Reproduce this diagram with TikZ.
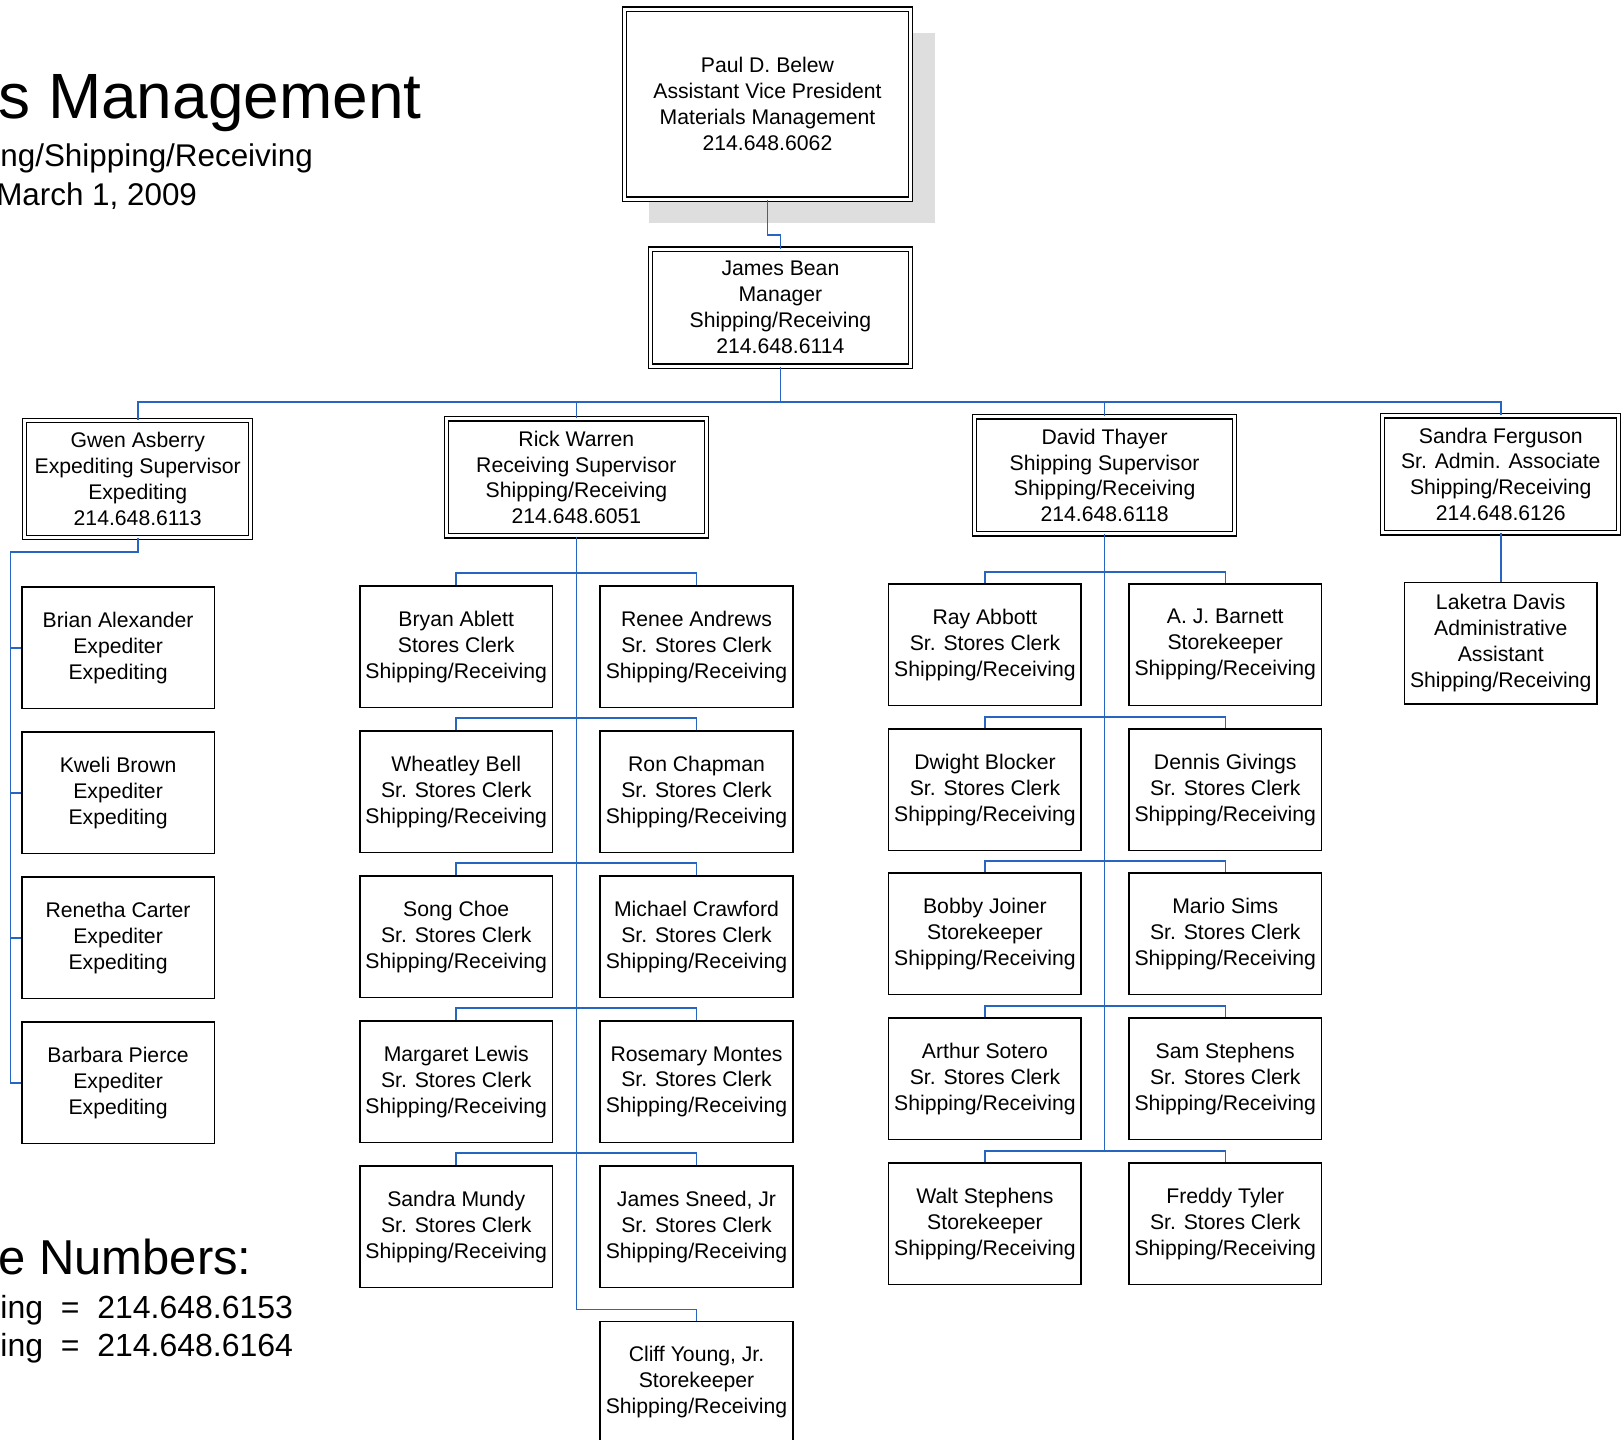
\documentclass[tikz,border=0pt]{standalone}
\usepackage{fontspec}
\setmainfont{Liberation Sans}
\usetikzlibrary{calc,positioning,shadows}
\definecolor{linkblue}{RGB}{38,102,192}

\begin{document}
\begin{tikzpicture}[x=0.5179pt, y=-0.5179pt, every node/.style={font=\fontsize{10.6}{12.95}\selectfont, align=center, inner sep=0pt}, leaf/.style={draw, line width=0.8pt, fill=white, minimum width=96.3pt, minimum height=60.6pt}, head/.style={draw, double, double distance=1.5pt, line width=0.6pt, fill=white, minimum height=58.5pt}, link/.style={draw=linkblue, line width=0.75pt}]

    \useasboundingbox (0,0) rectangle (1568,1390);

    \node[anchor=base west, font=\fontsize{32}{36}\selectfont]   (title)  at (-2,114)  {s Management};
    \node[anchor=base west, font=\fontsize{15.7}{19}\selectfont] (dept)   at (0,161)   {ng/Shipping/Receiving};
    \node[anchor=base west, font=\fontsize{15.7}{19}\selectfont] (date)   at (-4,198)  {March 1, 2009};
    \node[anchor=base west, font=\fontsize{24.5}{29}\selectfont] (phones) at (-2,1231) {e Numbers:};
    \node[anchor=base west, font=\fontsize{16}{19}\selectfont]   (phonea) at (0,1273)  {ing\ \ =\ \ 214.648.6153};
    \node[anchor=base west, font=\fontsize{16}{19}\selectfont]   (phoneb) at (0,1310)  {ing\ \ =\ \ 214.648.6164};

    \node[head, general shadow={fill=black!13, shadow xshift=12.4pt, shadow yshift=-11.9pt}, minimum width=143pt, minimum height=95pt] (belew) at (741,100.5) {Paul D. Belew\\Assistant Vice President\\Materials Management\\214.648.6062};
    \node[head, minimum width=130pt] (bean)     at (753.5,297)  {James Bean\\Manager\\Shipping/Receiving\\214.648.6114};

    \node[head, minimum width=113pt] (asberry)  at (133,462.5)  {Gwen Asberry\\Expediting Supervisor\\Expediting\\214.648.6113};
    \node[head, minimum width=130pt] (warren)   at (556.5,461)  {Rick Warren\\Receiving Supervisor\\Shipping/Receiving\\214.648.6051};
    \node[head, minimum width=130pt] (thayer)   at (1066.5,459) {David Thayer\\Shipping Supervisor\\Shipping/Receiving\\214.648.6118};
    \node[head, minimum width=118pt] (ferguson) at (1449,458)   {Sandra Ferguson\\Sr. Admin. Associate\\Shipping/Receiving\\214.648.6126};

    \node[leaf] (alexander) at (114,625.5)  {Brian Alexander\\Expediter\\Expediting};
    \node[leaf] (brown)     at (114,765.5)  {Kweli Brown\\Expediter\\Expediting};
    \node[leaf] (carter)    at (114,905.5)  {Renetha Carter\\Expediter\\Expediting};
    \node[leaf] (pierce)    at (114,1045.5) {Barbara Pierce\\Expediter\\Expediting};

    \node[leaf] (ablett)    at (440.5,624.5)  {Bryan Ablett\\Stores Clerk\\Shipping/Receiving};
    \node[leaf] (andrews)   at (672.5,624.5)  {Renee Andrews\\Sr. Stores Clerk\\Shipping/Receiving};
    \node[leaf] (bell)      at (440.5,764.5)  {Wheatley Bell\\Sr. Stores Clerk\\Shipping/Receiving};
    \node[leaf] (chapman)   at (672.5,764.5)  {Ron Chapman\\Sr. Stores Clerk\\Shipping/Receiving};
    \node[leaf] (choe)      at (440.5,904.5)  {Song Choe\\Sr. Stores Clerk\\Shipping/Receiving};
    \node[leaf] (crawford)  at (672.5,904.5)  {Michael Crawford\\Sr. Stores Clerk\\Shipping/Receiving};
    \node[leaf] (lewis)     at (440.5,1044.5) {Margaret Lewis\\Sr. Stores Clerk\\Shipping/Receiving};
    \node[leaf] (montes)    at (672.5,1044.5) {Rosemary Montes\\Sr. Stores Clerk\\Shipping/Receiving};
    \node[leaf] (mundy)     at (440.5,1184.5) {Sandra Mundy\\Sr. Stores Clerk\\Shipping/Receiving};
    \node[leaf] (sneed)     at (672.5,1184.5) {James Sneed, Jr\\Sr. Stores Clerk\\Shipping/Receiving};
    \node[leaf] (young)     at (672.5,1334.5) {Cliff Young, Jr.\\Storekeeper\\Shipping/Receiving};

    \node[leaf] (abbott)    at (951,622.5)   {Ray Abbott\\Sr. Stores Clerk\\Shipping/Receiving};
    \node[leaf] (barnett)   at (1183,622.5)  {A. J. Barnett\\Storekeeper\\Shipping/Receiving};
    \node[leaf] (blocker)   at (951,762.5)   {Dwight Blocker\\Sr. Stores Clerk\\Shipping/Receiving};
    \node[leaf] (givings)   at (1183,762.5)  {Dennis Givings\\Sr. Stores Clerk\\Shipping/Receiving};
    \node[leaf] (joiner)    at (951,901.5)   {Bobby Joiner\\Storekeeper\\Shipping/Receiving};
    \node[leaf] (sims)      at (1183,901.5)  {Mario Sims\\Sr. Stores Clerk\\Shipping/Receiving};
    \node[leaf] (sotero)    at (951,1041.5)  {Arthur Sotero\\Sr. Stores Clerk\\Shipping/Receiving};
    \node[leaf] (sstephens) at (1183,1041.5) {Sam Stephens\\Sr. Stores Clerk\\Shipping/Receiving};
    \node[leaf] (wstephens) at (951,1181.5)  {Walt Stephens\\Storekeeper\\Shipping/Receiving};
    \node[leaf] (tyler)     at (1183,1181.5) {Freddy Tyler\\Sr. Stores Clerk\\Shipping/Receiving};

    \node[leaf] (davis)     at (1449,621)    {Laketra Davis\\Administrative\\Assistant\\Shipping/Receiving};

    \coordinate (bus) at (753.5,388);
    \coordinate (gw)  at (10,533);

    \draw[link] (belew.south) -- ++(0,34) -| (bean.north);
    \draw[link] (bean.south) -- (bus);
    \draw[link] (asberry.north) |- (bus) -| (ferguson.north);
    \draw[link] (warren.north) -- (warren.north |- bus);
    \draw[link] (thayer.north) -- (thayer.north |- bus);

    \draw[link] (asberry.south) |- (gw) |- (pierce.west);
    \draw[link] (gw) |- (alexander.west);
    \draw[link] (gw) |- (brown.west);
    \draw[link] (gw) |- (carter.west);

    \draw[link] (warren.south) |- ($(young.north)+(0,-11)$) -- (young.north);
    \draw[link] (ablett.north) -- ++(0,-12) -| (andrews.north);
    \draw[link] (bell.north)   -- ++(0,-12) -| (chapman.north);
    \draw[link] (choe.north)   -- ++(0,-12) -| (crawford.north);
    \draw[link] (lewis.north)  -- ++(0,-12) -| (montes.north);
    \draw[link] (mundy.north)  -- ++(0,-12) -| (sneed.north);

    \draw[link] (thayer.south) -- ($(thayer.south |- tyler.north)+(0,-11)$);
    \draw[link] (abbott.north)    -- ++(0,-11) -| (barnett.north);
    \draw[link] (blocker.north)   -- ++(0,-11) -| (givings.north);
    \draw[link] (joiner.north)    -- ++(0,-11) -| (sims.north);
    \draw[link] (sotero.north)    -- ++(0,-11) -| (sstephens.north);
    \draw[link] (wstephens.north) -- ++(0,-11) -| (tyler.north);

    \draw[link] (ferguson.south) -- (davis.north);

\end{tikzpicture}
\end{document}
